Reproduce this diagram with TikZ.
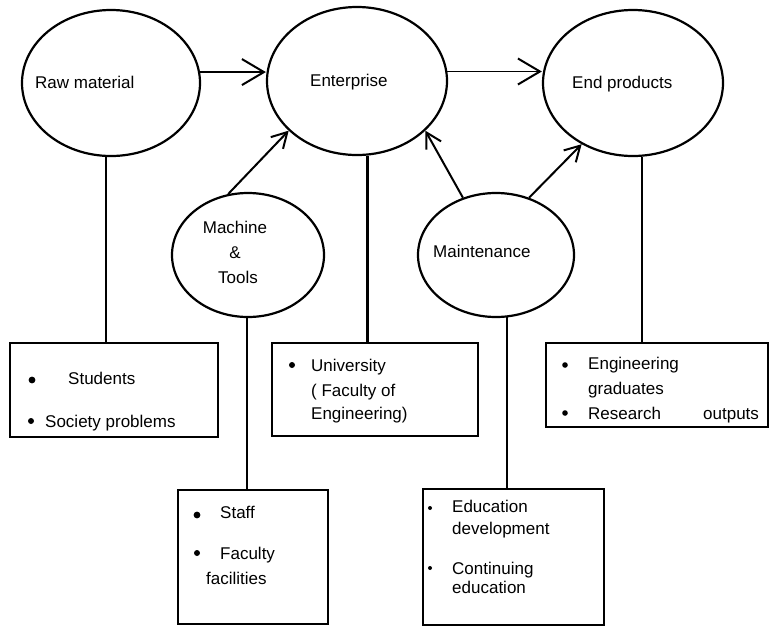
\documentclass[tikz,border=0pt]{standalone}
\usepackage{fontspec}
\setmainfont{Liberation Sans}
\usetikzlibrary{shapes.geometric,arrows.meta}
\tikzset{
  oval/.style={draw, ellipse, line width=2.2pt, inner sep=0pt},
  box/.style={draw, rectangle, line width=2pt, inner sep=0pt},
  txt/.style={inner sep=0pt, anchor=base west, font=\fontsize{17}{20}\selectfont},
  ctxt/.style={inner sep=0pt, anchor=base, font=\fontsize{17}{20}\selectfont},
  link/.style={line width=2.2pt},
  bigarr/.style={line width=1.8pt, -{Straight Barb[length=22pt,width=26pt,line width=2pt]}},
  smallarr/.style={line width=2pt, -{Straight Barb[length=15pt,width=17pt,line width=2pt]}},
  dot/.style={fill=black}
}
\begin{document}
\begin{tikzpicture}[x=1pt,y=-1pt]
\useasboundingbox (0,0) rectangle (770,627);
% ellipses
\node[oval, minimum width=178pt, minimum height=146pt] (raw) at (111,83) {};
\node[oval, minimum width=180pt, minimum height=148pt] (ent) at (357,81) {};
\node[oval, minimum width=180pt, minimum height=146pt] (endp) at (633,83) {};
\node[oval, minimum width=152pt, minimum height=124pt] (mach) at (248,255) {};
\node[oval, minimum width=156pt, minimum height=124pt] (maint) at (496,255) {};
% ellipse texts
\node[txt] (rawt) at (35,88) {Raw material};
\node[txt] (entt) at (310,86) {Enterprise};
\node[txt] (endpt) at (572,88) {End products};
\node[ctxt] (macht1) at (235,233) {Machine};
\node[ctxt] (macht2) at (235,258) {\&};
\node[ctxt] (macht3) at (238,283) {Tools};
\node[txt] (maintt) at (433,257) {Maintenance};
% boxes
\node[box, minimum width=208pt, minimum height=94pt] (stud) at (114,390) {};
\node[box, minimum width=206pt, minimum height=93pt] (univ) at (375,389.5) {};
\node[box, minimum width=222pt, minimum height=84pt] (grad) at (657,385) {};
\node[box, minimum width=150pt, minimum height=134pt] (staff) at (253,557) {};
\node[box, minimum width=181pt, minimum height=136pt] (edu) at (513.5,557) {};
% box texts
\node[txt] (s1) at (68,384) {Students};
\node[txt] (s2) at (45,427) {Society problems};
\node[txt] (u1) at (311,371) {University};
\node[txt] (u2) at (311,396) {( Faculty of};
\node[txt] (u3) at (311,419) {Engineering)};
\node[txt] (g1) at (588,369) {Engineering};
\node[txt] (g2) at (588,394) {graduates};
\node[txt] (g3) at (588,419) {Research};
\node[txt] (g4) at (703,419) {outputs};
\node[txt] (f1) at (220,518) {Staff};
\node[txt] (f2) at (220,559) {Faculty};
\node[txt] (f3) at (206,584) {facilities};
\node[txt] (e1) at (452,512) {Education};
\node[txt] (e2) at (452,534) {development};
\node[txt] (e3) at (452,574) {Continuing};
\node[txt] (e4) at (452,593) {education};
% bullets
\fill[dot] (32,380) circle (3.4pt);
\fill[dot] (31,421) circle (3pt);
\fill[dot] (292,365) circle (3pt);
\fill[dot] (565,365) circle (2.8pt);
\fill[dot] (565,413) circle (2.8pt);
\fill[dot] (197,515) circle (3.4pt);
\fill[dot] (197,553) circle (3pt);
\fill[dot] (430,508) circle (2pt);
\fill[dot] (430,568) circle (2pt);
% vertical connectors
\draw[link] (raw.-94) -- (raw.-94 |- stud.north);
\draw[link] (ent.-82) -- (ent.-82 |- univ.north);
\draw[link] (endp.-83) -- (endp.-83 |- grad.north);
\draw[link] (mach.-91) -- (mach.-91 |- staff.north);
\draw[link] (maint.-80) -- (maint.-80 |- edu.north);
% arrows
\draw[bigarr] (raw.7) -- (raw.7 -| ent.west);
\draw[bigarr] (ent.6) -- (ent.6 -| endp.west);
\draw[smallarr] (mach.108) -- (ent.-144);
\draw[smallarr] (maint.120) -- (ent.-36);
\draw[smallarr] (maint.60) -- (endp.-130);
\end{tikzpicture}
\end{document}
